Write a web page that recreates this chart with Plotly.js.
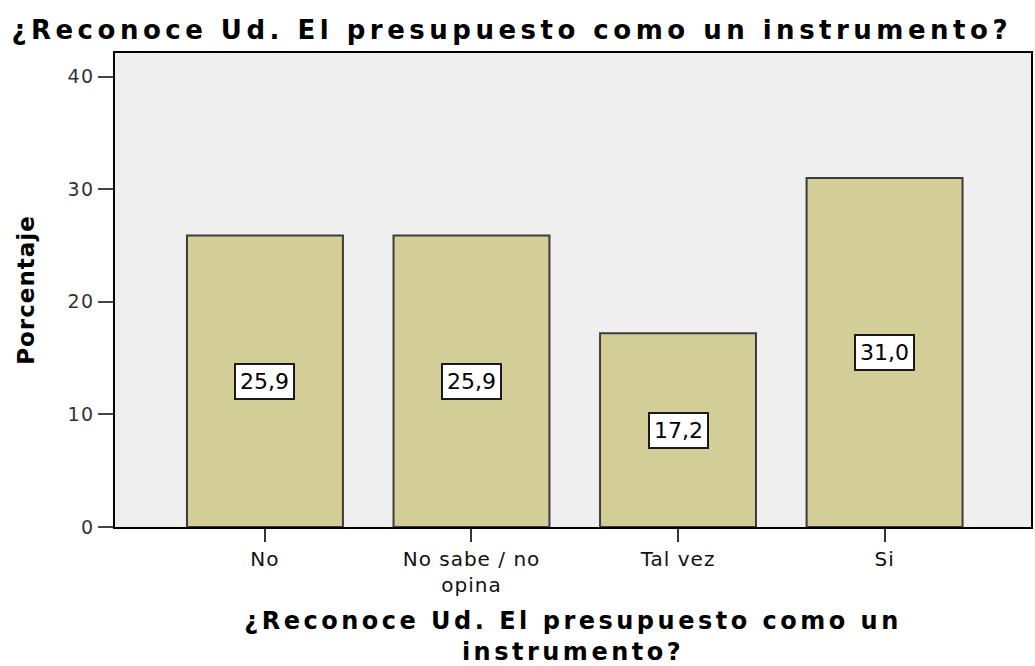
<!DOCTYPE html>
<html>
<head>
<meta charset="utf-8">
<script src="https://cdn.plot.ly/plotly-3.0.1.min.js"></script>
<style>
html,body{margin:0;padding:0;background:#fff;}
#chart{width:1035px;height:666px;}
#chart .gtitle{letter-spacing:4.5px;}
#chart .xtitle{letter-spacing:3.5px;}
#chart .ytitle{letter-spacing:1px;}
#chart .xtick text{letter-spacing:1px;}
#chart .ytick text{letter-spacing:1.2px;}
</style>
</head>
<body>
<div id="chart"></div>
<script>
const categories = ["No", "No sabe / no<br>opina", "Tal vez", "Si"];
const percentages = [25.9, 25.9, 17.2, 31.0];
const yTicks = [0, 10, 20, 30, 40];
const chartTitle = "¿Reconoce Ud. El presupuesto como un instrumento?";
const xTitle = "¿Reconoce Ud. El presupuesto como un<br>instrumento?";
const yTitle = "Porcentaje";

const FONT = 'DejaVu Sans, Arial, sans-serif';
const fmt = v => v.toFixed(1).replace('.', ',');

const trace = {
  type: 'bar',
  x: categories,
  y: percentages,
  width: 0.755,
  marker: {color: '#d3ce97', line: {color: '#3c3c3c', width: 2}},
  hoverinfo: 'none'
};

const annotations = categories.map((c, i) => ({
  x: c, y: percentages[i] / 2, xref: 'x', yref: 'y',
  text: fmt(percentages[i]), showarrow: false,
  font: {family: FONT, size: 22, color: '#000'},
  bgcolor: '#ffffff', bordercolor: '#1a1a1a', borderwidth: 2, borderpad: 4
}));

const layout = {
  width: 1035, height: 666,
  margin: {l: 115, r: 4, t: 53, b: 139},
  paper_bgcolor: '#ffffff',
  plot_bgcolor: '#efefef',
  showlegend: false,
  separators: ',.',
  title: {
    text: chartTitle,
    font: {family: FONT, size: 26, color: '#000', weight: 'bold'},
    x: 0.011, xanchor: 'left', xref: 'container',
    y: 0.955, yanchor: 'middle', yref: 'container'
  },
  xaxis: {
    type: 'category',
    range: [-0.726, 3.709],
    showgrid: false, zeroline: false,
    showline: true, linecolor: '#000', linewidth: 2, mirror: true,
    ticks: 'outside', ticklen: 13, tickwidth: 2, tickcolor: '#333',
    tickfont: {family: FONT, size: 20, color: '#111'},
    title: {
      text: xTitle, standoff: 20,
      font: {family: FONT, size: 24, color: '#000', weight: 'bold'}
    }
  },
  yaxis: {
    range: [0, 42.1],
    tickvals: yTicks,
    showgrid: false, zeroline: false,
    showline: true, linecolor: '#000', linewidth: 2, mirror: true,
    ticks: 'outside', ticklen: 15, tickwidth: 2, tickcolor: '#444',
    tickfont: {family: FONT, size: 19, color: '#333'},
    title: {
      text: yTitle, standoff: 29,
      font: {family: FONT, size: 23, color: '#000', weight: 'bold'}
    }
  },
  annotations: annotations
};

Plotly.newPlot('chart', [trace], layout, {displayModeBar: false, staticPlot: true});
</script>
</body>
</html>
